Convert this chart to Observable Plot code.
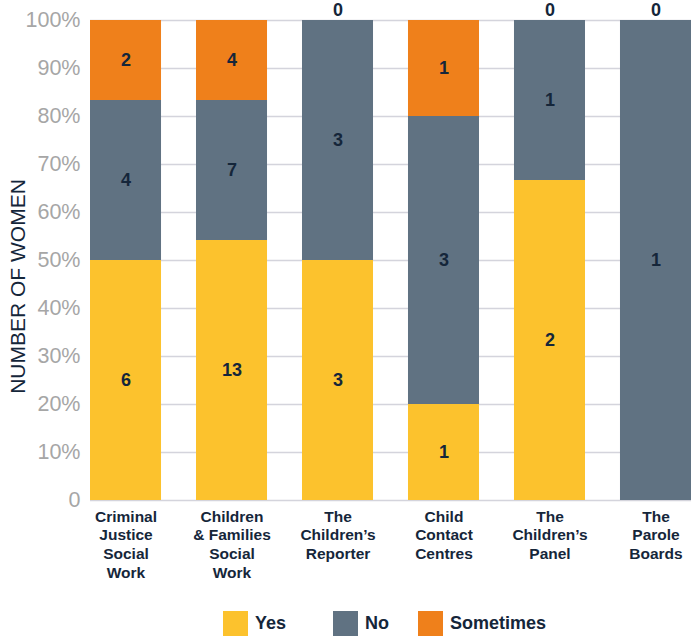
<!DOCTYPE html>
<html><head><meta charset="utf-8">
<script src="https://cdn.jsdelivr.net/npm/d3@7"></script>
<script src="https://cdn.jsdelivr.net/npm/@observablehq/plot@0.6"></script>
<style>
body{margin:0;background:#fff;font-family:"Liberation Sans",Arial,sans-serif;}
#legend{position:relative;height:49px;width:692px;}
.item{position:absolute;top:21px;display:flex;align-items:center;font-weight:bold;font-size:18px;color:#15263a;height:25px;}
.sw{width:25px;height:25px;margin-right:7px;}
</style></head><body>
<div id="chart"></div>
<div id="legend"></div>
<script>
const categories = ["Criminal Justice Social Work","Children & Families Social Work","The Children’s Reporter","Child Contact Centres","The Children’s Panel","The Parole Boards"];
const xTickLabels = ["Criminal\nJustice\nSocial\nWork","Children\n& Families\nSocial\nWork","The\nChildren’s\nReporter","Child\nContact\nCentres","The\nChildren’s\nPanel","The\nParole\nBoards"];
const series = ["Yes","No","Sometimes"];
const seriesColors = ["#FCC22D","#607282","#EF801B"];
const yesValues = [6,13,3,1,2,0];
const noValues = [4,7,3,3,1,1];
const sometimesValues = [2,4,0,1,0,0];
const yTicks = [0,0.1,0.2,0.3,0.4,0.5,0.6,0.7,0.8,0.9,1];
const yTickLabels = ["0","10%","20%","30%","40%","50%","60%","70%","80%","90%","100%"];
const yAxisLabel = "NUMBER OF WOMEN";

const valueArrays = [yesValues, noValues, sometimesValues];
const rows = [];
categories.forEach((c, i) => {
  valueArrays.forEach((arr, j) => rows.push({category: c, series: series[j], value: arr[i]}));
});

const dark = "#15263a";
const stackOpts = {offset: "normalize", order: series, x: "category", y: "value", z: "series"};

const chart = Plot.plot({
  width: 692, height: 590,
  marginLeft: 90, marginRight: 1, marginTop: 20, marginBottom: 90,
  style: {fontFamily: "'Liberation Sans', Arial, sans-serif", background: "#fff"},
  x: {domain: categories, paddingInner: 0.33, paddingOuter: 0, round: false, label: null},
  y: {domain: [0, 1], label: null},
  color: {domain: series, range: seriesColors},
  marks: [
    Plot.gridY(yTicks, {stroke: "#d4d4dc", strokeOpacity: 1, strokeWidth: 1.5}),
    Plot.barY(rows, Plot.stackY({...stackOpts, fill: "series"})),
    Plot.text(rows, Plot.stackY({...stackOpts, text: d => d.value > 0 ? String(d.value) : "", fontSize: 18, fontWeight: "bold", fill: dark})),
    Plot.text(rows, Plot.stackY({...stackOpts, text: d => (d.value === 0 && d.series === "Sometimes") ? "0" : "", dy: -10, fontSize: 18, fontWeight: "bold", fill: dark})),
    Plot.axisY(yTicks, {tickSize: 0, tickPadding: 10, tickFormat: d => yTickLabels[yTicks.indexOf(d)], fontSize: 21.5, fill: "#a6a6a6", label: null}),
    Plot.axisX({tickSize: 0, tickPadding: 8, tickFormat: d => xTickLabels[categories.indexOf(d)], fontSize: 15.5, fontWeight: "bold", fill: dark, lineHeight: 1.2, label: null}),
    Plot.text([yAxisLabel], {frameAnchor: "left", textAnchor: "middle", rotate: -90, dx: -72, dy: 26, fontSize: 21, fill: dark})
  ]
});
document.getElementById("chart").appendChild(chart);

const legend = document.getElementById("legend");
const legendLeft = [223, 333, 418];
series.forEach((s, i) => {
  const it = document.createElement("div");
  it.className = "item";
  it.style.left = legendLeft[i] + "px";
  it.innerHTML = `<span class="sw" style="background:${seriesColors[i]}"></span><span>${s}</span>`;
  legend.appendChild(it);
});
</script>
</body></html>
